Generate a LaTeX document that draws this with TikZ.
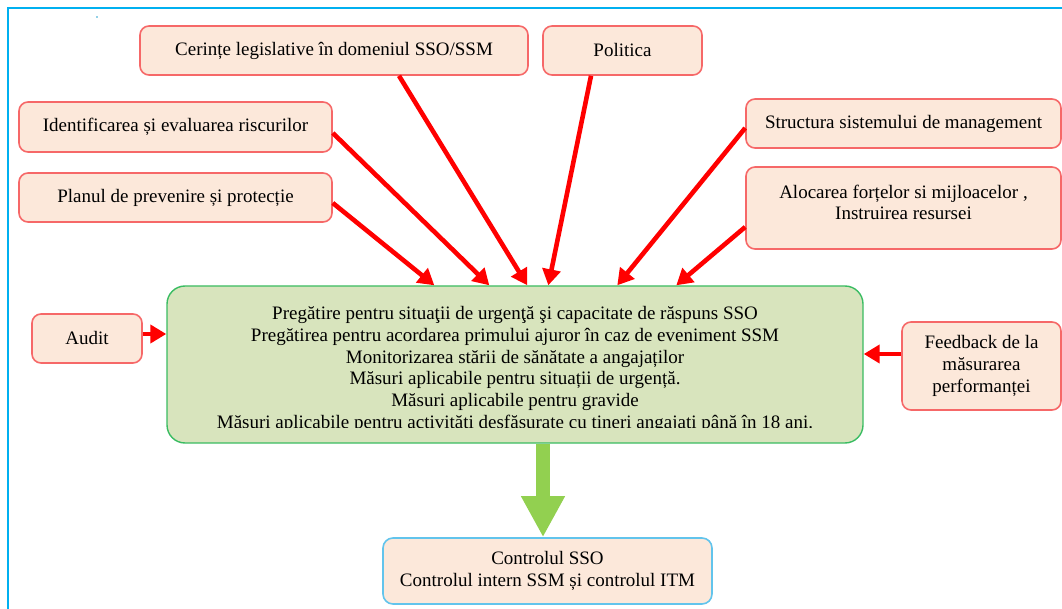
\documentclass[tikz,border=0pt]{standalone}
\usepackage{fontspec}
\setmainfont{Liberation Serif}
\usetikzlibrary{arrows.meta,calc}

\definecolor{framecol}{RGB}{0,176,240}
\definecolor{boxfill}{RGB}{252,232,218}
\definecolor{boxline}{RGB}{246,104,104}
\definecolor{centerfill}{RGB}{216,228,189}
\definecolor{centerline}{RGB}{58,188,98}
\definecolor{downarrow}{RGB}{146,208,80}
\definecolor{ctrlline}{RGB}{98,196,236}
\definecolor{feedred}{RGB}{255,0,0}

\begin{document}
\begin{tikzpicture}[x=1pt,y=-1pt,
  txt/.style={font=\fontsize{19}{21.8}\selectfont, align=center, text=black},
  box/.style={txt, draw=boxline, line width=1.6pt, fill=boxfill,
    rounded corners=9pt, inner sep=0pt},
  centerbox/.style={draw=centerline, line width=1.4pt, fill=centerfill,
    rounded corners=18pt, inner sep=0pt},
  ctrlbox/.style={txt, draw=ctrlline, line width=1.6pt, fill=boxfill,
    rounded corners=10pt, inner sep=0pt},
  feed/.style={draw=feedred, line width=4.6pt,
    -{Triangle[length=16pt,width=18pt]}},
  result/.style={draw=downarrow, line width=14pt,
    -{Triangle[length=41pt,width=41pt]}}
]
\useasboundingbox (0,0) rectangle (1062,609);

% outer frame (open on the right and bottom)
\draw[framecol, line width=2.6pt] (8,609) -- (8,8) -- (1062,8);
\fill[framecol!70!gray] (97,17) circle (0.8);

% input boxes
\node[box, minimum width=388pt, minimum height=49pt] (cer) at (334,50.5)
  {Cerințe legislative în domeniul SSO/SSM};
\node[box, minimum width=159pt, minimum height=49pt] (pol) at (622.5,50.5)
  {Politica};
\node[box, minimum width=313pt, minimum height=50pt] (ident) at (175.5,127)
  {Identificarea și evaluarea riscurilor};
\node[box, minimum width=313pt, minimum height=49pt] (plan) at (175.5,197.5)
  {Planul de prevenire și protecție};
\node[box, minimum width=315pt, minimum height=49pt] (struct) at (903.5,123.5)
  {Structura sistemului de management};
\node[box, minimum width=315pt, minimum height=82pt] (aloc) at (903.5,208) {};
\node[txt] (aloct) at ([yshift=5.5pt]aloc.center)
  {Alocarea forțelor si mijloacelor ,\\Instruirea resursei};
\node[box, minimum width=110pt, minimum height=49pt] (audit) at (87,338.5)
  {Audit};
\node[box, minimum width=159pt, minimum height=88pt] (fb) at (981.5,366)
  {Feedback de la\\măsurarea\\performanței};

% central box
\node[centerbox, minimum width=696pt, minimum height=157pt] (core) at (515,364.5) {};
\begin{scope}
  \clip (167,286) rectangle (863,427);
  \node[txt] (coret) at (515,369.5)
    {Pregătire pentru situaţii de urgenţă şi capacitate de răspuns SSO\\
     Pregătirea pentru acordarea primului ajuror în caz de eveniment SSM\\
     Monitorizarea stării de sănătate a angajaților\\
     Măsuri aplicabile pentru situații de urgență.\\
     Măsuri aplicabile pentru gravide\\
     Măsuri aplicabile pentru activități desfășurate cu tineri angajați până în 18 ani.};
\end{scope}

% output box
\node[ctrlbox, minimum width=329pt, minimum height=66pt] (ctrl) at (547.5,571)
  {Controlul SSO\\Controlul intern SSM și controlul ITM};

% red input arrows
\draw[feed] ([yshift=-5.5pt]plan.east)   -- ([xshift=268pt]core.north west);
\draw[feed] ([yshift=-6pt]ident.east)    -- ([xshift=323pt]core.north west);
\draw[feed] ([xshift=65pt]cer.south)     -- ([xshift=361pt]core.north west);
\draw[feed] ([xshift=-31.5pt]pol.south)  -- ([xshift=382pt]core.north west);
\draw[feed] ([yshift=-4.5pt]struct.west) -- ([xshift=451pt]core.north west);
\draw[feed] ([yshift=-19pt]aloc.west)    -- ([xshift=510pt]core.north west);
\draw[feed] ([yshift=4.5pt]audit.east)   -- ([yshift=30.5pt]core.west);
\draw[feed] ([yshift=12pt]fb.west)       -- ([yshift=10.5pt]core.east);

% green result arrow
\draw[result] ([xshift=28pt]core.south) -- ([xshift=-4.5pt]ctrl.north);
\end{tikzpicture}
\end{document}
